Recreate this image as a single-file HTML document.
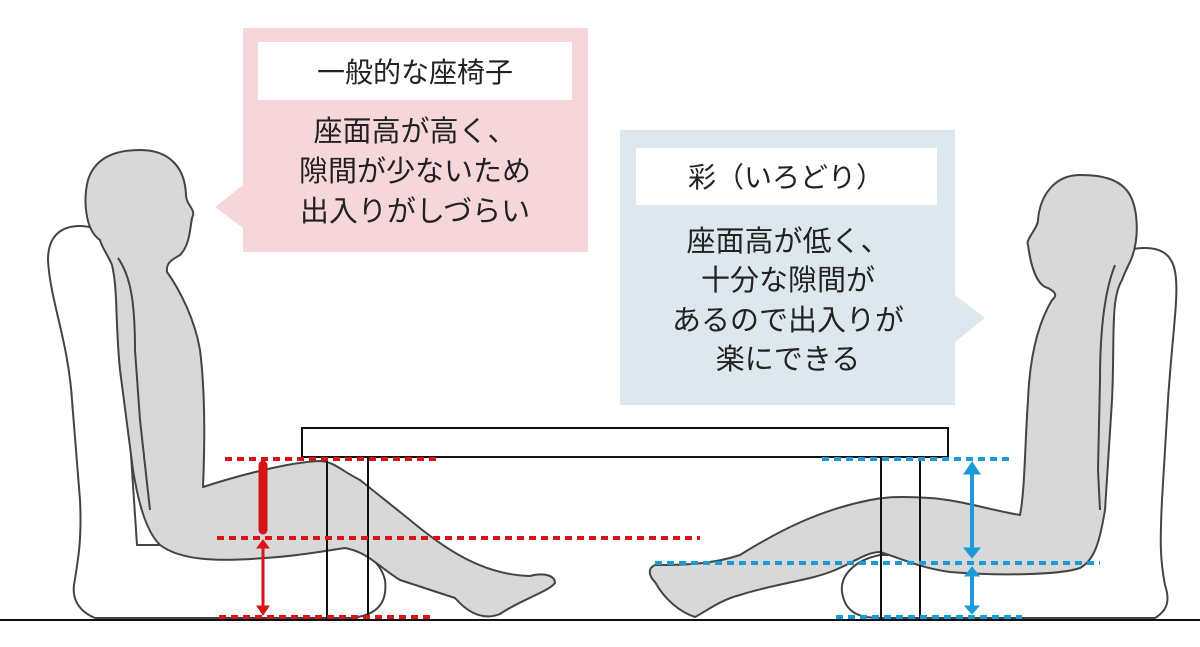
<!DOCTYPE html>
<html><head><meta charset="utf-8"><style>
html,body{margin:0;padding:0;background:#fff;}
svg{display:block}
text{font-family:"Liberation Sans","Noto Sans CJK JP",sans-serif;fill:#222;}
</style></head><body>
<svg width="1200" height="647" viewBox="0 0 1200 647" xmlns="http://www.w3.org/2000/svg">
<!-- pink callout -->
<rect x="243" y="28" width="345" height="224" fill="#f5d7da"/>
<polygon points="243,185 215,207 243,228" fill="#f5d7da"/>
<rect x="258" y="42" width="314" height="58" fill="#fff"/>
<text x="415" y="82" font-size="28" text-anchor="middle">一般的な座椅子</text>
<text x="415" y="141" font-size="29" text-anchor="middle">座面高が高く、</text>
<text x="415" y="181" font-size="29" text-anchor="middle">隙間が少ないため</text>
<text x="415" y="221" font-size="29" text-anchor="middle">出入りがしづらい</text>
<!-- blue callout -->
<rect x="620" y="130" width="335" height="275" fill="#dce8ee"/>
<polygon points="955,295 985,318 955,342" fill="#dce8ee"/>
<rect x="636" y="148" width="301" height="57" fill="#fff"/>
<text x="786" y="187" font-size="28" text-anchor="middle">彩（いろどり）</text>
<text x="788" y="251" font-size="29" text-anchor="middle">座面高が低く、</text>
<text x="788" y="290" font-size="29" text-anchor="middle">十分な隙間が</text>
<text x="788" y="330" font-size="29" text-anchor="middle">あるので出入りが</text>
<text x="788" y="369" font-size="29" text-anchor="middle">楽にできる</text>

<g stroke="#444" stroke-width="2" stroke-linejoin="round">
<!-- left chair -->
<path d="M95,618 C80,612 72,600 74,585 C78,560 82,540 80,500 L72,400 C68,340 50,300 48,260 C48,235 62,226 80,226 C92,226 100,230 115,240 C125,260 120,290 122,320 L137,545 L330,545 C360,545 380,560 385,580 C388,605 375,616 350,618 Z" fill="#fff"/>
<!-- right chair -->
<path d="M1155,618 C1168,610 1170,600 1165,585 C1160,560 1160,540 1162,500 L1168,400 C1172,340 1178,300 1176,280 C1175,258 1165,248 1145,248 C1130,248 1120,252 1110,262 L1085,555 L880,555 C855,560 840,575 842,592 C845,612 858,618 880,618 Z" fill="#fff"/>
<!-- left person -->
<path d="M100,240 C85,230 83,200 88,180 C95,158 115,150 140,150 C170,150 185,168 186,195 C186,205 197,210 192,218 C190,228 190,245 180,255 C172,260 166,262 167,272 C180,290 195,320 200,350 C205,390 205,440 203,487 C240,475 290,462 320,461 C335,462 340,470 360,480 L410,520 C440,545 480,575 530,576 C545,572 555,576 555,583 C548,592 520,600 500,614 C485,620 470,615 455,598 L400,580 C380,568 368,552 345,548 C330,550 300,556 265,558 C215,562 180,560 160,545 C145,530 138,500 133,470 L120,370 C115,320 118,290 112,265 C108,255 102,248 100,240 Z" fill="#d8d8d8"/>
<path d="M118,258 C130,275 135,300 135,350 L140,420 L150,510" fill="none"/>
<!-- right person -->
<path d="M1130,262 C1140,240 1138,210 1130,195 C1120,178 1100,175 1080,175 C1055,175 1040,195 1038,220 C1038,228 1025,240 1028,245 C1030,260 1035,285 1048,288 C1055,292 1058,295 1052,300 C1040,320 1030,350 1028,400 C1025,440 1025,490 1020,515 C990,510 960,500 930,498 C900,496 885,497 870,500 C820,510 780,530 740,555 C710,565 680,565 655,565 C648,568 648,575 655,582 C665,600 680,612 695,617 C705,612 720,600 740,595 C770,585 810,580 830,572 C850,565 865,552 880,552 C900,558 920,568 950,572 C1000,576 1060,575 1080,568 C1095,560 1100,540 1105,510 L1112,400 C1115,340 1110,300 1122,280 C1125,272 1128,266 1130,262 Z" fill="#d8d8d8"/>
<path d="M1115,265 C1105,290 1100,330 1100,380 L1098,470 L1100,510" fill="none"/>
</g>

<!-- table -->
<g stroke="#111" stroke-width="2" fill="none">
<rect x="302" y="428" width="646" height="29" fill="#fff"/>
<line x1="327" y1="457" x2="327" y2="620"/>
<line x1="368" y1="457" x2="368" y2="620"/>
<line x1="881" y1="457" x2="881" y2="620"/>
<line x1="920" y1="457" x2="920" y2="620"/>
</g>
<line x1="0" y1="620" x2="1200" y2="620" stroke="#111" stroke-width="2"/>

<!-- red dims -->
<g stroke="#d71518" stroke-width="4" stroke-dasharray="7,5">
<line x1="225" y1="459" x2="438" y2="459"/>
<line x1="217" y1="538" x2="700" y2="538"/>
<line x1="219" y1="617" x2="430" y2="617"/>
</g>
<g stroke="#d71518" fill="#d71518">
<line x1="263" y1="465" x2="263" y2="530" stroke-width="9" stroke-linecap="round"/>
<line x1="263" y1="545" x2="263" y2="610" stroke-width="3"/>
<polygon points="257,548 269,548 263,540"/>
<polygon points="257,606 269,606 263,615"/>
</g>
<!-- blue dims -->
<g stroke="#1a9ad6" stroke-width="4" stroke-dasharray="7,5">
<line x1="822" y1="459" x2="1010" y2="459"/>
<line x1="655" y1="563" x2="1100" y2="563"/>
<line x1="836" y1="617" x2="1022" y2="617"/>
</g>
<g stroke="#1a9ad6" fill="#1a9ad6">
<line x1="972" y1="470" x2="972" y2="552" stroke-width="4"/>
<polygon points="964,474 980,474 972,462"/>
<polygon points="964,548 980,548 972,558"/>
<line x1="972" y1="572" x2="972" y2="610" stroke-width="4"/>
<polygon points="965,576 979,576 972,567"/>
<polygon points="965,606 979,606 972,614"/>
</g>
</svg>
</body></html>
